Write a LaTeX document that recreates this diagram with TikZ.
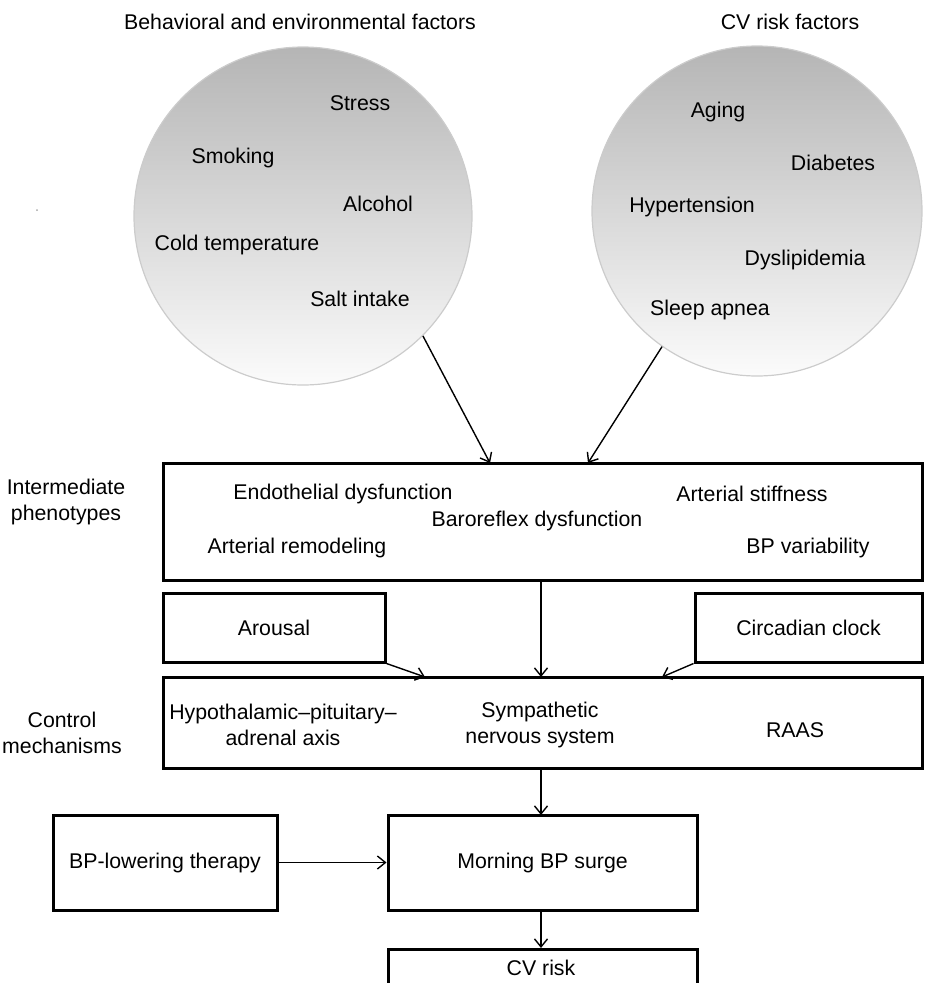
\documentclass[tikz,border=0pt]{standalone}
\usepackage{fontspec}
\setmainfont{Liberation Sans}
\usetikzlibrary{arrows.meta}
\begin{document}
\begin{tikzpicture}[x=1pt,y=-1pt,
  every node/.style={font=\fontsize{21.3}{26}\selectfont, inner sep=0pt},
  box/.style={draw=black, line width=3pt, rectangle, fill=white},
  ball/.style={circle, draw=gray!40, line width=1.2pt, shade, top color=gray!58, bottom color=gray!3},
  arr/.style={line width=1.4pt, -{Straight Barb[length=8pt,width=13pt,line width=1.4pt]}},
  side/.style={align=center}
]
\useasboundingbox (0,0) rectangle (925,983);

% titles
\node (t1) at (300,22) {Behavioral and environmental factors};
\node (t2) at (790,22) {CV risk factors};
\fill[gray!70] (37,210) circle (1);

% circles
\node[ball, minimum size=338pt] (lc) at (303,216) {};
\node[ball, minimum size=330pt] (rc) at (757,211) {};

\node (s1) at (360,103) {Stress};
\node (s2) at (233,158) {Smoking};
\node (s3) at (378,204) {Alcohol};
\node (s4) at (237,245) {Cold temperature};
\node (s5) at (360,299) {Salt intake};

\node (r1) at (718,112) {Aging};
\node (r2) at (833,163) {Diabetes};
\node (r3) at (692,207) {Hypertension};
\node (r4) at (805,260) {Dyslipidemia};
\node (r5) at (710,310) {Sleep apnea};

% intermediate phenotypes
\node[box, minimum width=759pt, minimum height=117pt] (ib) at (542.5,521.5) {};
\node[side] (ipl) at (66,502) {Intermediate\\phenotypes};
\node (i1) at (343,494) {Endothelial dysfunction};
\node (i2) at (752,494) {Arterial stiffness};
\node (i3) at (537,521) {Baroreflex dysfunction};
\node (i4) at (297,548) {Arterial remodeling};
\node (i5) at (808,548) {BP variability};

\coordinate (e1) at (490,463);
\coordinate (e2) at (588,463);
\draw[arr] (lc.-45) -- (e1);
\draw[arr] (rc.-125) -- (e2);

% arousal / circadian
\node[box, minimum width=222pt, minimum height=69pt] (ar) at (274,627.5) {Arousal};
\node[box, minimum width=227pt, minimum height=69pt] (cc) at (808.5,627.5) {Circadian clock};

% control mechanisms
\node[box, minimum width=759pt, minimum height=91pt] (cm) at (542.5,722.5) {};
\node[side] (cml) at (62,733) {Control\\mechanisms};
\node[side] (c1) at (283,725) {Hypothalamic–pituitary–\\adrenal axis};
\node[side] (c2) at (540,725) {Sympathetic\\nervous system};
\node (c3) at (795,730) {RAAS};

\coordinate (e3) at (425,677);
\coordinate (e4) at (662,677);
\coordinate (e5) at (541,677);
\coordinate (s6) at (541,580);
\draw[arr] (ar.south east) -- (e3);
\draw[arr] (cc.south west) -- (e4);
\draw[arr] (s6) -- (e5);

% bottom
\node[box, minimum width=309pt, minimum height=95pt] (mb) at (542.5,862.5) {Morning BP surge};
\node[box, minimum width=224pt, minimum height=95pt] (bp) at (165,862.5) {BP-lowering therapy};
\node[box, minimum width=309pt, minimum height=70pt, anchor=north] (cv) at (542.5,948) {};
\node (cvt) at (541,968) {CV risk};

\coordinate (s7) at (541,768);
\coordinate (e7) at (541,815);
\coordinate (s8) at (541,910);
\coordinate (e8) at (541,948);
\draw[arr] (s7) -- (e7);
\draw[arr] (bp.east) -- (mb.west);
\draw[arr] (s8) -- (e8);
\end{tikzpicture}
\end{document}
